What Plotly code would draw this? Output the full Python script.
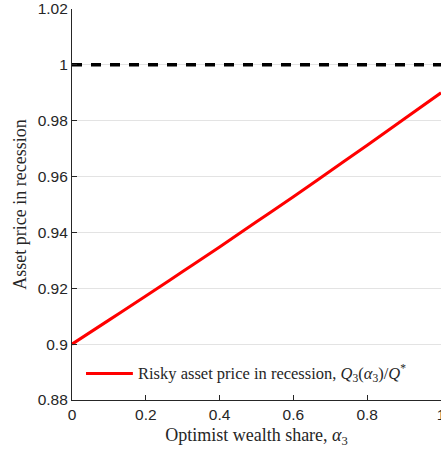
import plotly.graph_objects as go

# Optimist wealth share alpha_3 and the normalised recession price Q_3(alpha_3)/Q*
alpha = [0.0, 0.1, 0.2, 0.3, 0.4, 0.5, 0.6, 0.7, 0.8, 0.9, 1.0]
price_ratio = [0.900, 0.9086, 0.9172, 0.9260, 0.9348, 0.9438,
               0.9528, 0.9620, 0.9712, 0.9806, 0.9900]

# Benchmark level (price without the recession shock)
benchmark = 1.0

x_ticks = [0, 0.2, 0.4, 0.6, 0.8, 1]
x_tick_text = ["0", "0.2", "0.4", "0.6", "0.8", "1"]
y_ticks = [0.88, 0.90, 0.92, 0.94, 0.96, 0.98, 1.00, 1.02]
y_tick_text = ["0.88", "0.9", "0.92", "0.94", "0.96", "0.98", "1", "1.02"]

legend_label = ("Risky asset price in recession, "
                "<i>Q</i><sub>3</sub>(<i>α</i><sub>3</sub>)/<i>Q</i><sup>*</sup>")

serif = "Liberation Serif"
sans = "Liberation Sans"
ink = "#262626"

fig = go.Figure()

fig.add_trace(go.Scatter(
    x=[alpha[0], alpha[-1]], y=[benchmark, benchmark],
    mode="lines", line=dict(color="black", width=3.5, dash="10px,9px"),
    showlegend=False, hoverinfo="skip",
))

fig.add_trace(go.Scatter(
    x=alpha, y=price_ratio, mode="lines",
    line=dict(color="#ff0000", width=3, shape="spline"),
    name=legend_label, showlegend=False,
))

# Legend entry placed inside the lower-left corner of the axes
fig.add_shape(type="line", xref="paper", yref="paper",
              x0=0.038, x1=0.165, y0=0.068, y1=0.068,
              line=dict(color="#ff0000", width=3))
fig.add_annotation(text=legend_label, xref="paper", yref="paper",
                   x=0.174, y=0.068, xanchor="left", yanchor="middle",
                   showarrow=False,
                   font=dict(family=serif, size=16.5, color=ink))

fig.update_layout(
    width=441, height=450,
    margin=dict(l=72, r=0, t=9, b=50, autoexpand=False),
    plot_bgcolor="white", paper_bgcolor="white",
    font=dict(family=sans, size=15.5, color=ink),
    showlegend=False,
    xaxis=dict(
        range=[0, 1], tickvals=x_ticks, ticktext=x_tick_text,
        tickfont=dict(family=sans, size=15.5, color=ink),
        ticks="inside", ticklen=5, tickcolor=ink,
        ticklabeloverflow="allow", automargin=False,
        showline=True, linecolor=ink, linewidth=1.2,
        showgrid=False, zeroline=False,
        title=dict(text="Optimist wealth share, <i>α</i><sub>3</sub>",
                   font=dict(family=serif, size=18, color=ink), standoff=6),
    ),
    yaxis=dict(
        range=[0.88, 1.02], tickvals=y_ticks, ticktext=y_tick_text,
        tickfont=dict(family=sans, size=15.5, color=ink),
        ticks="inside", ticklen=5, tickcolor=ink, automargin=False,
        showline=True, linecolor=ink, linewidth=1.2,
        showgrid=True, gridcolor="#e3e3e3", gridwidth=1,
        zeroline=False,
        title=dict(text="Asset price in recession",
                   font=dict(family=serif, size=18, color=ink), standoff=6),
    ),
)

fig.write_html("out.html")
